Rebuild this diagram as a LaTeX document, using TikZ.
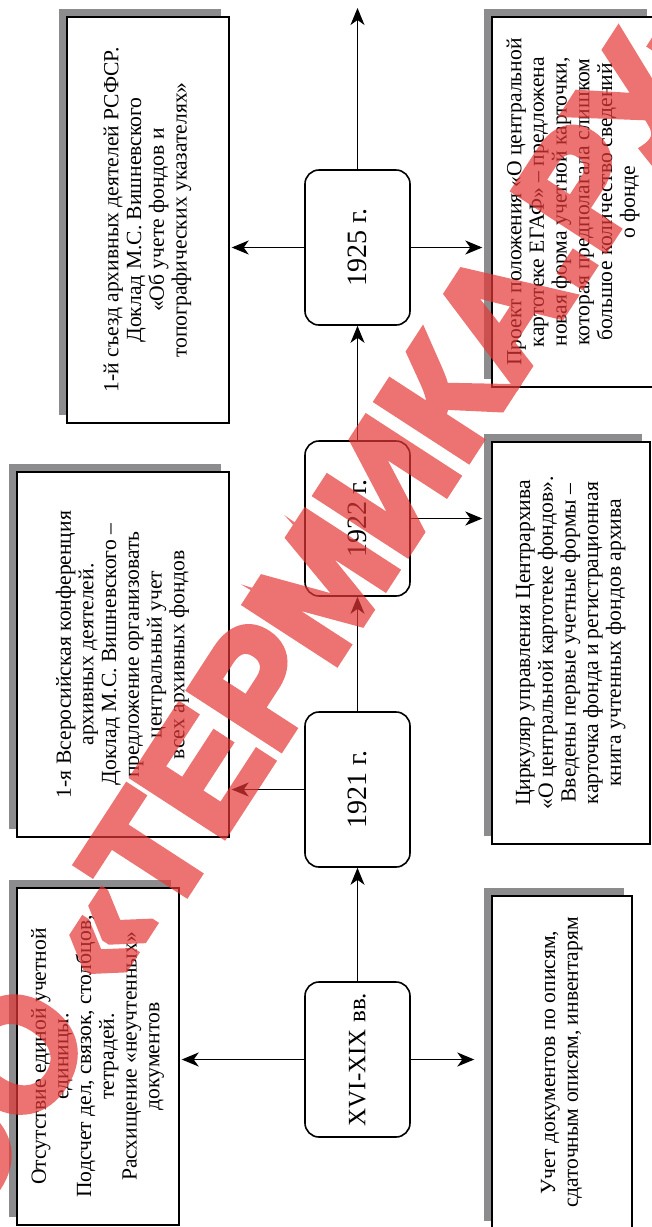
\documentclass[tikz,border=0pt]{standalone}
\usepackage{fontspec}
\usepackage{graphicx}
\setmainfont{Liberation Serif}
\usetikzlibrary{arrows.meta,shadows}

\definecolor{shadowgray}{RGB}{140,140,142}
\definecolor{stampred}{RGB}{230,55,55}
\font\stampfont="Liberation Sans/B:embolden=5" at 78pt

% text set sideways, read from bottom to top
\newcommand\vlines[1]{\rotatebox{90}{\begin{tabular}{@{}c@{}}#1\end{tabular}}}

\tikzset{
  era/.style={draw, line width=0.8pt, rounded corners=7pt, fill=white,
    minimum width=52.5pt, minimum height=77.5pt, inner sep=0pt,
    font=\fontsize{14}{16}\selectfont},
  note/.style={draw, line width=0.7pt, fill=white, inner sep=0pt,
    font=\fontsize{10.8}{11.35}\selectfont,
    drop shadow={shadow xshift=-4pt, shadow yshift=4pt, fill=shadowgray, opacity=1}},
  link/.style={line width=0.6pt, -{Stealth[length=8.5pt,width=7pt,inset=2.5pt]}},
}

\begin{document}
\begin{tikzpicture}[x=0.5pt,y=-0.5pt]
\useasboundingbox (0,0) rectangle (652,1227);
\clip (0,0) rectangle (652,1227);
\fill[white] (0,0) rectangle (652,1227);

% periods on the time axis
\node[era] (xvi)   at (357.5,1059.5) {\rotatebox{90}{\fontsize{12.5}{15}\selectfont XVI-XIX вв.}};
\node[era] (y1921) at (357.5,789.5)  {\rotatebox{90}{1921 г.}};
\node[era] (y1922) at (357.5,518.5)  {\rotatebox{90}{1922 г.}};
\node[era] (y1925) at (357.5,247.5)  {\rotatebox{90}{1925 г.}};
\coordinate (axisend) at (357.5,8);

% events
\node[note, minimum width=81pt, minimum height=203pt] (l1) at (148,220)
  {\vlines{1-й съезд архивных деятелей РСФСР.\\Доклад М.С. Вишневского\\«Об учете фондов и\\топографических указателях»}};
\node[note, minimum width=106pt, minimum height=182.5pt] (l2) at (123,654.5)
  {\vlines{1-я Всеросийская конференция\\архивных деятелей.\\Доклад М.С. Вишневского –\\предложение организовать\\центральный учет\\всех архивных фондов}};
\node[note, minimum width=81pt, minimum height=168.5pt] (l3) at (98,1056.5)
  {\vlines{Отсутствие единой учетной\\единицы.\\Подсчет дел, связок, столбцов,\\тетрадей.\\Расхищение «неучтенных»\\документов}};

\node[note, minimum width=81.5pt, minimum height=185pt] (r1) at (573.5,202)
  {\vlines{Проект положения «О центральной\\картотеке ЕГАФ» – предложена\\новая форма учетной карточки,\\которая предполагала слишком\\большое количество сведений\\о фонде}};
\node[note, minimum width=79pt, minimum height=201pt] (r2) at (571,643)
  {\vlines{Циркуляр управления Центрархива\\«О центральной картотеке фондов».\\Введены первые учетные формы –\\карточка фонда и регистрационная\\книга учтенных фондов архива}};
\node[note, minimum width=70pt, minimum height=166.5pt] (r3) at (562,1062.5)
  {\vlines{Учет документов по описям,\\сдаточным описям, инвентарям}};

% time axis
\draw[link] (xvi.north) -- (y1921.south);
\draw[link] (y1921.north) -- (y1922.south);
\draw[link] (y1922.north) -- (y1925.south);
\draw[link] (y1925.north) -- (axisend);

% branches
\draw[link, shorten >=1pt] (xvi.west) -- (xvi.west -| l3.east);
\draw[link, shorten >=1pt] (y1921.west) -- (y1921.west -| l2.east);
\draw[link, shorten >=1pt] (y1925.west) -- (y1925.west -| l1.east);
\draw[link, shorten >=8.5pt] (xvi.east) -- (xvi.east -| r3.west);
\draw[link, shorten >=4.5pt] (y1922.east) -- (y1922.east -| r2.west);
\draw[link, shorten >=4.5pt] (y1925.east) -- (y1925.east -| r1.west);

% stamp across the sheet
\begin{scope}[transparency group, opacity=0.7, line join=round, miter limit=1]
\node[text=stampred, rotate=57, inner sep=0pt] (stamp) at (392,478)
  {\stampfont\llap{ООО «}ТЕРМИКА.РУ\rlap{»}};
\end{scope}
\end{tikzpicture}
\end{document}
